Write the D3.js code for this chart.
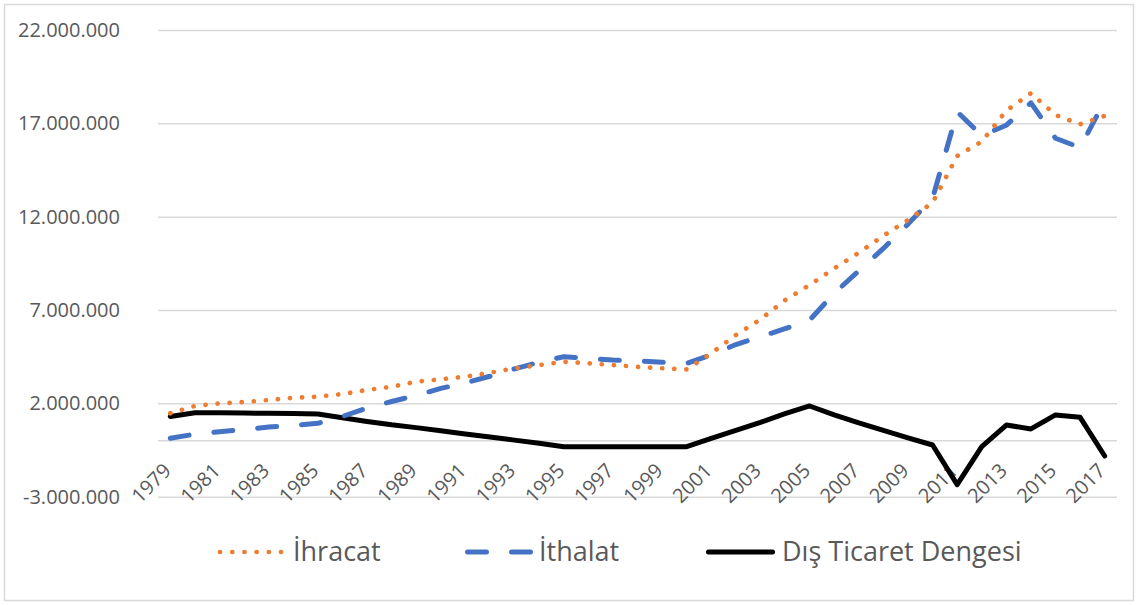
<!DOCTYPE html>
<html>
<head>
<meta charset="utf-8">
<script src="https://cdn.jsdelivr.net/npm/d3@7"></script>
<style>
  html, body { margin: 0; padding: 0; background: #fff; }
  text { font-family: "Open Sans", "Noto Sans", sans-serif; fill: #595959; }
</style>
</head>
<body>
<div id="root"></div>
<script>
// Categories (years)
var years = d3.range(1979, 2018);

// Values in millions
var ihracat = [1.47, 1.86, 2.0, 2.07, 2.18, 2.3, 2.36, 2.5, 2.72, 2.89,
               3.16, 3.29, 3.43, 3.64, 3.88, 4.05, 4.23, 4.15, 4.05, 3.96,
               3.88, 3.82, 4.68, 5.66, 6.5, 7.53, 8.34, 9.23, 10.07, 10.98,
               11.82, 12.75, 15.25, 16.02, 17.68, 18.61, 17.45, 16.95, 17.4];

var ithalat = [0.13, 0.35, 0.48, 0.6, 0.73, 0.82, 0.93, 1.3, 1.75, 2.1,
               2.42, 2.8, 3.1, 3.45, 3.85, 4.2, 4.5, 4.4, 4.32, 4.27,
               4.2, 4.14, 4.6, 5.15, 5.57, 6.0, 6.46, 7.9, 9.1, 10.3,
               11.6, 12.98, 17.62, 16.34, 16.9, 18.1, 16.2, 15.7, 18.2];

var denge = [1.3, 1.5, 1.5, 1.48, 1.47, 1.46, 1.43, 1.23, 1.03, 0.85,
             0.7, 0.53, 0.36, 0.2, 0.03, -0.14, -0.32, -0.32, -0.32, -0.32,
             -0.32, -0.32, 0.12, 0.55, 0.98, 1.45, 1.86, 1.38, 0.95, 0.55,
             0.15, -0.23, -2.35, -0.32, 0.84, 0.63, 1.38, 1.25, -0.82];

// Tick labels
var yTicks = [-3000000, 2000000, 7000000, 12000000, 17000000, 22000000];
var xTickYears = years.filter(function (d, i) { return i % 2 === 0; });

var seriesNames = ["İhracat", "İthalat", "Dış Ticaret Dengesi"];
var seriesColors = ["#ED7D31", "#4472C4", "#000000"];

var width = 1138, height = 605;
var plot = {left: 158, right: 1117, top: 30, bottom: 496.7};

var svg = d3.select("#root")
            .append("svg")
            .attr("width", width)
            .attr("height", height);

// Chart border
svg.append("rect")
   .attr("x", 4.5)
   .attr("y", 4.5)
   .attr("width", 1129)
   .attr("height", 596)
   .attr("fill", "#fff")
   .attr("stroke", "#d9d9d9")
   .attr("stroke-width", 1.5);

var x = d3.scaleBand()
          .domain(years)
          .range([plot.left, plot.right]);

var y = d3.scaleLinear()
          .domain([-3000000, 22000000])
          .range([plot.bottom, plot.top]);

var cx = function (d) { return x(d) + x.bandwidth() / 2; };

var trFormat = d3.formatLocale({decimal: ",", thousands: ".", grouping: [3], currency: ["", ""], minus: "-"}).format(",");

// Gridlines + y labels
var yAxis = svg.append("g")
               .attr("transform", "translate(" + plot.left + ",0)")
               .call(d3.axisLeft(y).tickValues(yTicks).tickFormat(trFormat)
                        .tickSize(-(plot.right - plot.left)).tickPadding(38));
yAxis.select(".domain").remove();
yAxis.selectAll(".tick line")
     .attr("stroke", "#d9d9d9")
     .attr("stroke-width", 1.5);
yAxis.selectAll(".tick text")
     .attr("font-size", "20")
     .style("fill", "#595959")
     .style("font-family", "'Open Sans', sans-serif");

// Zero (category) axis line
svg.append("line")
   .attr("x1", plot.left)
   .attr("x2", plot.right)
   .attr("y1", y(0))
   .attr("y2", y(0))
   .attr("stroke", "#d9d9d9")
   .attr("stroke-width", 1.5);

// Year labels, rotated
svg.selectAll(".year")
   .data(xTickYears)
   .enter()
   .append("text")
   .attr("class", "year")
   .attr("text-anchor", "end")
   .attr("transform", function (d) { return "translate(" + (cx(d) + 2) + "," + 472 + ") rotate(-45)"; })
   .attr("font-size", "20")
   .text(function (d) { return d; });

// Lines
var line = d3.line()
             .x(function (d) { return cx(d.year); })
             .y(function (d) { return y(d.value * 1e6); });

var toPoints = function (arr) {
  return arr.map(function (v, i) { return {year: years[i], value: v}; });
};

svg.append("path")
   .datum(toPoints(denge))
   .attr("d", line)
   .attr("fill", "none")
   .attr("stroke", seriesColors[2])
   .attr("stroke-width", 5)
   .attr("stroke-linejoin", "round")
   .attr("stroke-linecap", "round");

svg.append("path")
   .datum(toPoints(ithalat))
   .attr("d", line)
   .attr("fill", "none")
   .attr("stroke", seriesColors[1])
   .attr("stroke-width", 5)
   .attr("stroke-dasharray", "19,25")
   .attr("stroke-linejoin", "round")
   .attr("stroke-linecap", "round");

svg.append("path")
   .datum(toPoints(ihracat))
   .attr("d", line)
   .attr("fill", "none")
   .attr("stroke", seriesColors[0])
   .attr("stroke-width", 4.7)
   .attr("stroke-dasharray", "0.1,12")
   .attr("stroke-linecap", "round");

// Legend
var legendY = 552;
var legendItems = [
  {x1: 220, x2: 281, dash: "0.1,12.1", w: 4.7, tx: 293},
  {x1: 467.5, x2: 530.5, dash: "19,25", w: 5, tx: 539},
  {x1: 708.5, x2: 772.5, dash: null, w: 5, tx: 782}
];

var legend = svg.selectAll(".legend")
                .data(legendItems)
                .enter()
                .append("g")
                .attr("class", "legend");

legend.append("line")
      .attr("x1", function (d) { return d.x1; })
      .attr("x2", function (d) { return d.x2; })
      .attr("y1", legendY)
      .attr("y2", legendY)
      .attr("stroke", function (d, i) { return seriesColors[i]; })
      .attr("stroke-width", function (d) { return d.w; })
      .attr("stroke-dasharray", function (d) { return d.dash; })
      .attr("stroke-linecap", "round");

legend.append("text")
      .attr("x", function (d) { return d.tx; })
      .attr("y", 561)
      .attr("font-size", "27")
      .text(function (d, i) { return seriesNames[i]; });
</script>
</body>
</html>
